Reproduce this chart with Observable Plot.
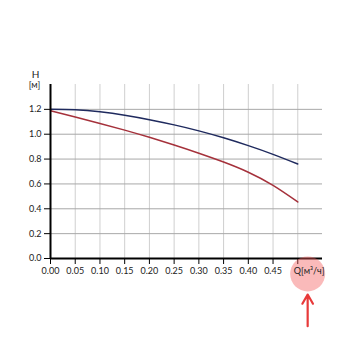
<!DOCTYPE html>
<html><head><meta charset="utf-8">
<script src="https://cdn.jsdelivr.net/npm/d3@7"></script>
<script src="https://cdn.jsdelivr.net/npm/@observablehq/plot@0.6"></script>
<style>body{margin:0;background:#fff;font-family:Lato,"Open Sans",sans-serif}</style>
</head><body><div id="chart"></div>
<script>
const q = [0, 0.05, 0.10, 0.15, 0.20, 0.25, 0.30, 0.35, 0.40, 0.45, 0.50];
const headBlue = [1.200, 1.196, 1.180, 1.153, 1.117, 1.075, 1.027, 0.971, 0.908, 0.838, 0.760];
const headRed = [1.188, 1.138, 1.087, 1.033, 0.975, 0.913, 0.847, 0.776, 0.694, 0.588, 0.455];
const xTicks = [0, 0.05, 0.10, 0.15, 0.20, 0.25, 0.30, 0.35, 0.40, 0.45, 0.50];
const yTicks = [0, 0.2, 0.4, 0.6, 0.8, 1.0, 1.2];
const xGrid = [0.05, 0.10, 0.15, 0.20, 0.25, 0.30, 0.35, 0.40, 0.45, 0.50];
const yGrid = [0.2, 0.4, 0.6, 0.8, 1.0, 1.2];
const xUnit = "Q[м³/ч]";
const yName = "H";
const yUnit = "[м]";

const blue = q.map((x, i) => ({x, y: headBlue[i]}));
const red = q.map((x, i) => ({x, y: headRed[i]}));

const chart = Plot.plot({
  width: 350, height: 350,
  marginLeft: 50, marginRight: 28, marginTop: 84, marginBottom: 92,
  style: {fontFamily: "Lato, 'Open Sans', sans-serif", fontSize: "9px", background: "#fff", color: "#222"},
  x: {type: "linear", domain: [0, 0.55], axis: null},
  y: {type: "linear", domain: [0, 1.4], axis: null},
  marks: [
    Plot.ruleX(xGrid, {x: d => d, y1: 0, y2: 1.4, stroke: "#cfcfcf", strokeWidth: 1}),
    Plot.ruleY(yGrid, {y: d => d, x1: 0, x2: 0.55, stroke: "#a8a8a8", strokeWidth: 1}),
    Plot.line(blue, {x: "x", y: "y", curve: "natural", stroke: "#1f2a5e", strokeWidth: 1.5}),
    Plot.line(red, {x: "x", y: "y", curve: "natural", stroke: "#a5313b", strokeWidth: 1.5}),
    Plot.ruleX([0], {x: d => d, y1: 0, y2: 1.4, stroke: "#000", strokeWidth: 2}),
    Plot.ruleY([0], {y: d => d, x1: 0, x2: 0.55, stroke: "#000", strokeWidth: 2}),
    Plot.axisY(yTicks, {tickSize: 6, tickFormat: d => d.toFixed(1), fontSize: 9, tickPadding: 3, label: null, stroke: "#000"}),
    Plot.axisX(xTicks, {tickSize: 6, tickFormat: d => d === 0.5 ? "" : d.toFixed(2), fontSize: 9, tickPadding: 3, label: null, stroke: "#000"}),
    Plot.dot([0], {x: [0.52], y: [-0.124], r: 17.5, fill: "#f25a5a", fillOpacity: 0.42, stroke: "none"}),
    Plot.text([xUnit], {x: [0.5], y: [0], dx: -4, dy: 13, text: d => d, fontSize: 9, textAnchor: "start", fill: "#222"}),
    Plot.text([yName], {x: [0], y: [1.4], dx: -15, dy: -10, text: d => d, fontSize: 10, textAnchor: "middle", fill: "#222"}),
    Plot.text([yUnit], {x: [0], y: [1.4], dx: -16, dy: 1, text: d => d, fontSize: 9, textAnchor: "middle", fill: "#222"}),
    Plot.arrow([0], {x1: [0.52], y1: [-0.545], x2: [0.52], y2: [-0.29], stroke: "#e83a3a", strokeWidth: 2.2, headLength: 9})
  ]
});
document.getElementById("chart").append(chart);
</script></body></html>
